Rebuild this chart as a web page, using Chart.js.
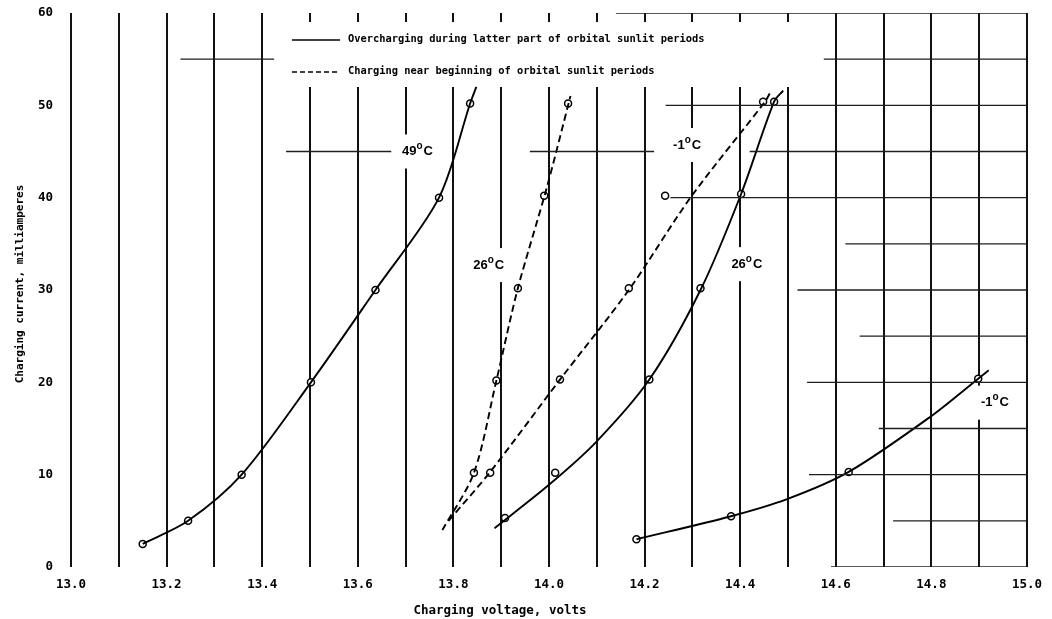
<!DOCTYPE html>
<html>
<head>
<meta charset="utf-8">
<script src="https://cdn.jsdelivr.net/npm/chart.js@4.4.0/dist/chart.umd.min.js"></script>
<style>
  html, body { margin: 0; padding: 0; background: #fff; }
  #wrap { width: 1052px; height: 619px; }
</style>
</head>
<body>
<div id="wrap"><canvas id="chart" width="1052" height="619"></canvas></div>
<script>
// Values: [volts, milliamperes]
const xTickLabels = ['13.0', '13.2', '13.4', '13.6', '13.8', '14.0', '14.2', '14.4', '14.6', '14.8', '15.0'];
const yTickLabels = ['0', '10', '20', '30', '40', '50', '60'];

// measured points (open circles)
const pts49Solid = [[13.15, 2.5], [13.245, 5.0], [13.357, 10.0], [13.502, 20.0], [13.637, 30.0], [13.77, 40.0], [13.835, 50.2]];
const pts26Dash = [[13.843, 10.2], [13.89, 20.2], [13.935, 30.2], [13.99, 40.2], [14.04, 50.2]];
const ptsM1Dash = [[13.877, 10.2], [14.023, 20.3], [14.167, 30.2], [14.243, 40.2], [14.448, 50.4]];
const pts26Solid = [[13.908, 5.3], [14.013, 10.2], [14.21, 20.3], [14.317, 30.2], [14.402, 40.4], [14.471, 50.4]];
const ptsM1Solid = [[14.183, 3.0], [14.381, 5.5], [14.627, 10.3], [14.898, 20.4]];

// faired curves as drawn on the sheet
const curve49Solid = [[13.15, 2.5], [13.245, 5.0], [13.357, 10.0], [13.502, 20.0], [13.637, 30.0], [13.77, 40.0], [13.835, 50.2], [13.848, 52.0]];
const curve26Dash = [[13.777, 4.0], [13.843, 10.2], [13.89, 20.2], [13.935, 30.2], [13.995, 41.0], [14.045, 51.0]];
const curveM1Dash = [[13.79, 5.0], [13.877, 10.3], [14.023, 20.3], [14.167, 30.0], [14.296, 40.0], [14.452, 50.4], [14.462, 51.3]];
const curve26Solid = [[13.886, 4.2], [14.0, 8.9], [14.098, 13.5], [14.21, 20.3], [14.317, 30.0], [14.402, 40.4], [14.471, 50.4], [14.49, 51.6]];
const curveM1Solid = [[14.183, 3.0], [14.381, 5.5], [14.498, 7.35], [14.627, 10.3], [14.796, 16.2], [14.898, 20.4], [14.92, 21.3]];

// partial horizontal rules on the paper: [mA, fromVolts, toVolts]
const ruleRows = [
  [60, 14.14, 15.0], [55, 13.229, 13.425], [55, 14.575, 15.0], [50, 14.244, 15.0],
  [45, 13.45, 13.67], [45, 13.96, 14.22], [45, 14.42, 15.0], [40, 14.254, 15.0],
  [35, 14.62, 15.0], [30, 14.52, 15.0], [25, 14.65, 15.0], [20, 14.54, 15.0],
  [15, 14.69, 15.0], [10, 14.544, 15.0], [5, 14.72, 15.0], [0, 14.59, 15.0]
];

const legendLabels = [
  'Overcharging during latter part of orbital sunlit periods',
  'Charging near beginning of orbital sunlit periods'
];
const tempLabels = ['49', '-1', '26', '26', '-1'];
const xTitle = 'Charging voltage, volts';
const yTitle = 'Charging current, milliamperes';

const toXY = arr => arr.map(p => ({ x: p[0], y: p[1] }));

// label anchors in data units (volts, mA)
const tempAnchors = [[13.725, 45.0], [14.289, 45.7], [13.874, 32.7], [14.414, 32.8], [14.933, 17.8]];

function curveSet(arr, dashed) {
  return {
    data: toXY(arr),
    showLine: true,
    borderColor: '#000',
    borderWidth: 1.9,
    borderDash: dashed ? [7, 4] : [],
    pointRadius: 0,
    tension: 0.3,
    fill: false
  };
}

function pointSet(arr) {
  return {
    data: toXY(arr),
    showLine: false,
    pointStyle: 'circle',
    pointRadius: 3.5,
    pointBorderWidth: 1.5,
    pointBorderColor: '#000',
    pointBackgroundColor: '#fff'
  };
}

const datasets = [];
ruleRows.forEach(r => {
  datasets.push({
    data: [{ x: r[1], y: r[0] }, { x: r[2], y: r[0] }],
    showLine: true,
    borderColor: '#1e1e1e',
    borderWidth: 1.3,
    pointRadius: 0
  });
});
datasets.push(curveSet(curve49Solid, false));
datasets.push(curveSet(curve26Dash, true));
datasets.push(curveSet(curveM1Dash, true));
datasets.push(curveSet(curve26Solid, false));
datasets.push(curveSet(curveM1Solid, false));
datasets.push(pointSet(pts49Solid));
datasets.push(pointSet(pts26Dash));
datasets.push(pointSet(ptsM1Dash));
datasets.push(pointSet(pts26Solid));
datasets.push(pointSet(ptsM1Solid));

const MONO = '"DejaVu Sans Mono", "Liberation Mono", monospace';
const SANS = '"Liberation Sans", Arial, sans-serif';

function tempWidth(ctx, num) {
  ctx.font = 'bold 13px ' + SANS;
  const a = ctx.measureText(num).width;
  const c = ctx.measureText('C').width;
  ctx.font = 'bold 10px ' + SANS;
  const o = ctx.measureText('o').width;
  return a + o + 1 + c;
}

function drawTemp(ctx, cx, cy, num) {
  const w = tempWidth(ctx, num);
  let x = cx - w / 2;
  ctx.textBaseline = 'middle';
  ctx.textAlign = 'left';
  ctx.font = 'bold 13px ' + SANS;
  ctx.fillText(num, x, cy);
  x += ctx.measureText(num).width;
  ctx.font = 'bold 10px ' + SANS;
  ctx.fillText('o', x, cy - 5);
  x += ctx.measureText('o').width + 1;
  ctx.font = 'bold 13px ' + SANS;
  ctx.fillText('C', x, cy);
}

// white paper patches, legend and lettering
const paperPlugin = {
  id: 'paper',
  beforeDatasetsDraw(chart) {
    const { ctx, scales } = chart;
    ctx.save();
    ctx.fillStyle = '#fff';
    ctx.fillRect(286, 22, 516, 65);
    tempLabels.forEach((t, i) => {
      const cx = scales.x.getPixelForValue(tempAnchors[i][0]);
      const cy = scales.y.getPixelForValue(tempAnchors[i][1]);
      const w = tempWidth(ctx, t);
      ctx.fillStyle = '#fff';
      ctx.fillRect(cx - w / 2 - 4, cy - 17, w + 8, 34);
    });
    ctx.restore();
  },
  afterDatasetsDraw(chart) {
    const { ctx, scales } = chart;
    ctx.save();
    ctx.fillStyle = '#000';
    ctx.strokeStyle = '#000';

    // legend
    ctx.lineWidth = 1.7;
    ctx.beginPath();
    ctx.moveTo(292, 40);
    ctx.lineTo(340, 40);
    ctx.stroke();
    ctx.setLineDash([5, 3]);
    ctx.beginPath();
    ctx.moveTo(292, 72);
    ctx.lineTo(340, 72);
    ctx.stroke();
    ctx.setLineDash([]);
    ctx.font = 'bold 10.4px ' + MONO;
    ctx.textAlign = 'left';
    ctx.textBaseline = 'middle';
    ctx.fillText(legendLabels[0], 348, 39);
    ctx.fillText(legendLabels[1], 348, 71);

    // temperature tags
    tempLabels.forEach((t, i) => {
      const cx = scales.x.getPixelForValue(tempAnchors[i][0]);
      const cy = scales.y.getPixelForValue(tempAnchors[i][1]);
      drawTemp(ctx, cx, cy, t);
    });

    // axis titles
    ctx.font = 'bold 12.5px ' + MONO;
    ctx.textAlign = 'center';
    ctx.textBaseline = 'middle';
    ctx.fillText(xTitle, 500, 611);
    ctx.translate(20, 284);
    ctx.rotate(-Math.PI / 2);
    ctx.font = 'bold 11px ' + MONO;
    ctx.fillText(yTitle, 0, 0);
    ctx.restore();
  }
};

new Chart(document.getElementById('chart'), {
  type: 'scatter',
  data: { datasets: datasets },
  plugins: [paperPlugin],
  options: {
    responsive: false,
    animation: false,
    layout: { padding: { top: 13, right: 22, left: 0, bottom: 0 } },
    plugins: {
      legend: { display: false },
      tooltip: { enabled: false }
    },
    scales: {
      x: {
        type: 'linear',
        min: 13.0,
        max: 15.0,
        afterFit: s => { s.height = 52; },
        border: { display: false },
        grid: { color: '#111', lineWidth: 2, drawTicks: false },
        ticks: {
          stepSize: 0.1,
          autoSkip: false,
          maxRotation: 0,
          padding: 10,
          color: '#000',
          font: { family: MONO, size: 12.5, weight: 'bold' },
          callback: v => {
            const s = Number(v).toFixed(1);
            return xTickLabels.includes(s) ? s : '';
          }
        }
      },
      y: {
        type: 'linear',
        min: 0,
        max: 60,
        afterFit: s => { s.width = 71; s.paddingTop = 0; s.paddingBottom = 0; },
        border: { display: false },
        grid: { display: false, drawTicks: false },
        ticks: {
          stepSize: 10,
          padding: 18,
          color: '#000',
          font: { family: MONO, size: 12.5, weight: 'bold' },
          callback: v => (yTickLabels.includes(String(v)) ? String(v) : '')
        }
      }
    }
  }
});
</script>
</body>
</html>
